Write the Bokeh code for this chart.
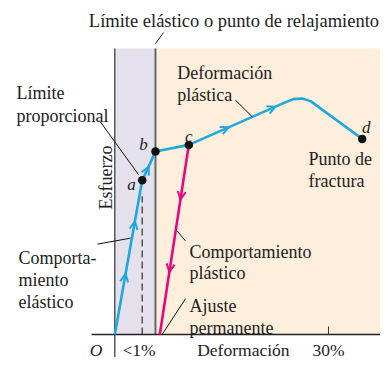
import numpy as np
from bokeh.plotting import figure
from bokeh.models import Range1d, Arrow, OpenHead
from bokeh.core.properties import value
from bokeh.embed import file_html
from bokeh.resources import INLINE

# ---------------- data (strain in %, stress in arbitrary units, band top = 100) ----------------
curve_strain = [0.0, 3.85, 5.01, 5.71, 10.39, 23.68, 25.09, 26.31, 27.48, 34.73]
curve_stress = [0.0, 53.9, 60.1, 64.0, 66.3, 80.9, 82.3, 82.5, 81.6, 68.4]

unload_strain = [10.39, 6.32]   # from c down to permanent set
unload_stress = [66.3, 0.0]

point_names = ["a", "b", "c", "d"]
point_strain = [3.85, 5.71, 10.39, 34.73]
point_stress = [53.9, 64.0, 66.3, 68.4]

band_top = 100.0
strain_max = 37.3
tick_strain = 30

# arrow positions: (segment index, fraction along segment)
blue_arrows = [(0, 0.393), (0, 0.734), (1, 0.77), (4, 0.42), (4, 0.915)]
pink_arrows = [(0, 0.288), (0, 0.67)]

# text annotations (left-aligned, baseline), data units
notes = ["Límite", "proporcional", "Comporta-", "miento", "elástico",
         "Deformación", "plástica", "Punto de", "fractura",
         "Comportamiento", "plástico", "Ajuste", "permanente"]
notes_x = [-13.80, -13.80, -13.52, -13.52, -13.52, 8.76, 8.76, 27.19, 27.19,
           10.49, 10.49, 10.49, 10.49]
notes_y = [84.38, 76.39, 26.74, 19.10, 11.46, 91.32, 83.68, 61.46, 53.82,
           28.82, 21.53, 10.07, 2.43]

# leader lines
lead_x0 = [5.71, -2.01, -2.43, 16.94, 8.76, 6.65]
lead_y0 = [101.74, 74.31, 31.60, 81.94, 36.22, 0.0]
lead_x1 = [6.84, 3.33, 2.20, 19.33, 9.92, 9.92]
lead_y1 = [105.56, 55.90, 33.68, 76.04, 32.74, 12.5]

title_text = "Límite elástico o punto de relajamiento"
axis_title_x = "Deformación"
axis_title_y = "Esfuerzo"

# ---------------- figure ----------------
W, H = 380, 357
SX, SY = 7.123, 2.86      # px per unit
OX, OY = 114.3, 334.0     # origin in figure px

p = figure(width=W, height=H, output_backend="svg", toolbar_location=None,
           x_range=Range1d(-OX / SX, (W - OX) / SX),
           y_range=Range1d(-(H - OY) / SY, OY / SY),
           min_border=0, min_border_left=0, min_border_right=0,
           min_border_top=0, min_border_bottom=0)
p.axis.visible = False
p.grid.visible = False
p.outline_line_color = None
p.background_fill_color = "white"

BLUE = "#1DA8E2"
PINK = "#E5087E"
SERIF = value("Liberation Serif")
INK = "#222222"

b_strain = point_strain[1]
# bands
p.quad(left=[0], right=[b_strain], bottom=[0], top=[band_top], fill_color="#E4E1EC", line_color=None)
p.quad(left=[b_strain], right=[strain_max], bottom=[0], top=[band_top], fill_color="#FEEEDC", line_color=None)

# dashed line under a
p.segment(x0=[point_strain[0]], y0=[0], x1=[point_strain[0]], y1=[48.3],
          line_color="#555555", line_width=1.5, line_dash="7 4")

# band boundary
p.segment(x0=[b_strain], y0=[0], x1=[b_strain], y1=[band_top], line_color="#666666", line_width=2)
# axes
p.segment(x0=[0], y0=[-9.0], x1=[0], y1=[band_top], line_color="#333333", line_width=1.2)
p.segment(x0=[-3.27], y0=[0], x1=[strain_max], y1=[0], line_color="#222222", line_width=1.3)
p.segment(x0=[tick_strain], y0=[0], x1=[tick_strain], y1=[2.8], line_color="#333333", line_width=1)

# curves
p.line(curve_strain, curve_stress, line_color=BLUE, line_width=2.6, line_join="round")
p.line(unload_strain, unload_stress, line_color=PINK, line_width=2.6)

def add_arrows(xs, ys, specs, color):
    for seg, t in specs:
        x0, y0, x1, y1 = xs[seg], ys[seg], xs[seg + 1], ys[seg + 1]
        xe, ye = x0 + (x1 - x0) * t, y0 + (y1 - y0) * t
        xs_, ys_ = x0 + (x1 - x0) * (t - 0.03), y0 + (y1 - y0) * (t - 0.03)
        p.add_layout(Arrow(x_start=xs_, y_start=ys_, x_end=xe, y_end=ye,
                           line_color=color, line_width=2,
                           end=OpenHead(size=8, line_color=color, line_width=2)))

add_arrows(curve_strain, curve_stress, blue_arrows, BLUE)
add_arrows(unload_strain, unload_stress, pink_arrows, PINK)

# points
p.scatter(point_strain, point_stress, size=8.5, fill_color="#111111", line_color=None)

# leader lines
p.segment(x0=lead_x0, y0=lead_y0, x1=lead_x1, y1=lead_y1, line_color="#111111", line_width=1)

# point letters
p.text(x=point_strain, y=point_stress, text=point_names,
       x_offset=[-10.7, -12, 0, 4], y_offset=[4.3, -6.7, -8, -11],
       text_font=SERIF, text_font_style="italic", text_font_size="17px",
       text_align="center", text_baseline="alphabetic", text_color=INK)

# annotations
p.text(x=notes_x, y=notes_y, text=notes, text_font=SERIF, text_font_size="18px",
       text_align="left", text_baseline="alphabetic", text_color=INK)

# title
p.text(x=[16.73], y=[109.5], text=[title_text], text_font=SERIF, text_font_size="18.5px",
       text_align="center", text_baseline="alphabetic", text_color=INK)

# axis labels (baseline kept inside the visible canvas)
yb = -5.5
fs_b = "17.5px"
p.text(x=[-1.73], y=[yb], text=["O"], text_font=SERIF, text_font_style="italic",
       text_font_size=fs_b, text_align="right", text_baseline="alphabetic", text_color=INK)
p.text(x=[1.08], y=[yb], text=["<1%"], text_font=SERIF,
       text_font_size=fs_b, text_align="left", text_baseline="alphabetic", text_color=INK)
p.text(x=[11.57], y=[yb], text=[axis_title_x], text_font=SERIF,
       text_font_size=fs_b, text_align="left", text_baseline="alphabetic", text_color=INK)
p.text(x=[tick_strain], y=[yb], text=[f"{tick_strain}%"], text_font=SERIF,
       text_font_size=fs_b, text_align="center", text_baseline="alphabetic", text_color=INK)
p.text(x=[-1.29], y=[54.86], text=[axis_title_y], angle=np.pi / 2, text_font=SERIF,
       text_font_size="18px", text_align="center", text_baseline="alphabetic", text_color=INK)

open("out.html", "w").write(file_html(p, INLINE))
